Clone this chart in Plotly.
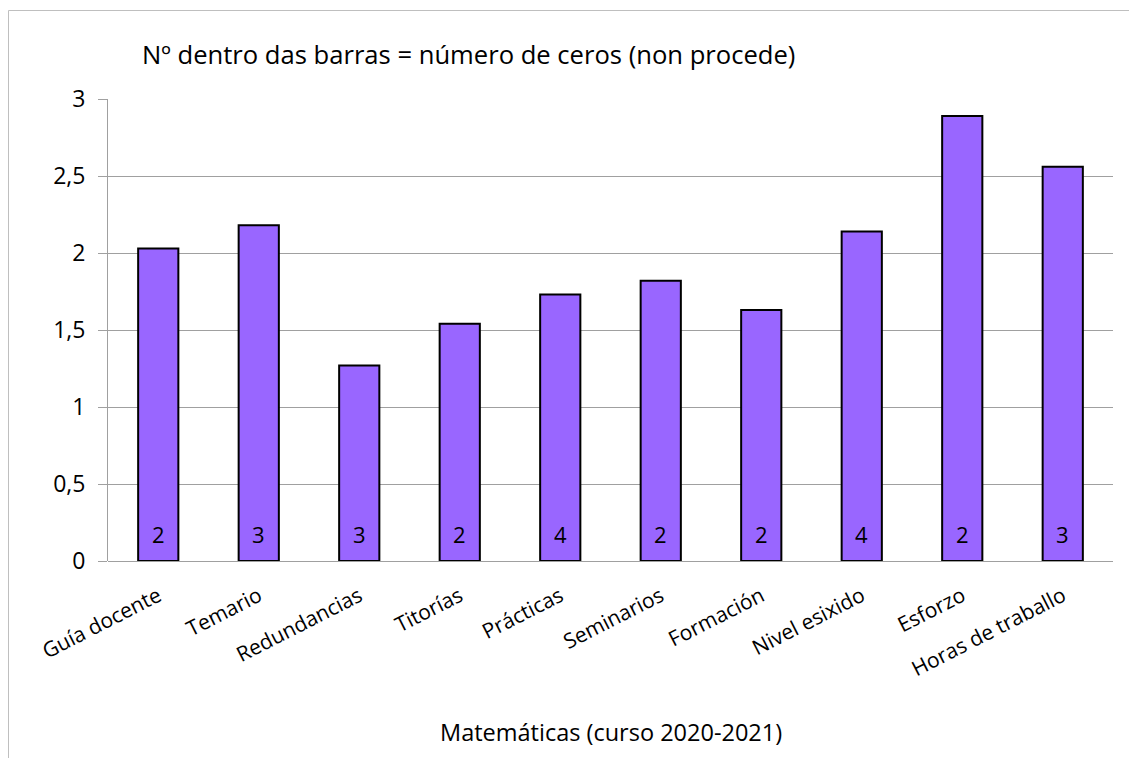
import plotly.graph_objects as go

categories = ["Guía docente", "Temario", "Redundancias", "Titorías", "Prácticas",
              "Seminarios", "Formación", "Nivel esixido", "Esforzo", "Horas de traballo"]
values = [2.03, 2.18, 1.27, 1.54, 1.73, 1.82, 1.63, 2.14, 2.89, 2.56]
zeros = [2, 3, 3, 2, 4, 2, 2, 4, 2, 3]
ytick_vals = [0, 0.5, 1, 1.5, 2, 2.5, 3]
ytick_text = ["0", "0,5", "1", "1,5", "2", "2,5", "3"]

FONT = "Open Sans"
W, H = 1129, 750          # page has an 8px body margin
L, R, T, B = 100, 24, 91, 197
pw, ph = W - L - R, H - T - B

fig = go.Figure()
fig.add_trace(go.Bar(
    x=categories, y=values,
    marker=dict(color="#9966FF", line=dict(color="#000000", width=2)),
    hoverinfo="x+y",
))

for c, z in zip(categories, zeros):
    fig.add_annotation(x=c, y=0, text=str(z), showarrow=False,
                       yanchor="middle", yshift=27,
                       font=dict(family=FONT, size=22, color="#000000"))

fig.add_annotation(xref="paper", yref="paper", x=(132 - L) / pw, y=(H - B - 47) / ph,
                   xanchor="left", yanchor="middle", showarrow=False,
                   text="Nº dentro das barras = número de ceros (non procede)",
                   font=dict(family=FONT, size=25.6, color="#000000"))

fig.add_annotation(xref="paper", yref="paper", x=0.5, y=(H - B - 724) / ph,
                   xanchor="center", yanchor="middle", showarrow=False,
                   text="Matemáticas (curso 2020-2021)",
                   font=dict(family=FONT, size=23.5, color="#000000"))

# outer chart border (left and top visible)
fig.add_shape(type="rect", xref="paper", yref="paper",
              x0=(0.5 - L) / pw, x1=(W + 20 - L) / pw,
              y0=(H - B - (H + 20)) / ph, y1=(H - B - 2.5) / ph,
              line=dict(color="#BFBFBF", width=1), layer="below")

fig.update_layout(
    width=W, height=H,
    margin=dict(l=L, r=R, t=T, b=B, pad=0),
    paper_bgcolor="white", plot_bgcolor="white",
    bargap=0.6, showlegend=False,
    separators=",.",
    font=dict(family=FONT, size=20, color="#000000"),
    xaxis=dict(
        tickangle=-27, showgrid=False, showline=False, ticks="",
        tickfont=dict(family=FONT, size=21, color="#000000"),
        ticklabelstandoff=18,
        automargin=False,
    ),
    yaxis=dict(
        range=[0, 3], tickvals=ytick_vals, ticktext=ytick_text,
        showgrid=True, gridcolor="#A0A0A0", gridwidth=1,
        showline=True, linecolor="#A0A0A0", linewidth=1,
        ticks="outside", ticklen=9, tickcolor="#A0A0A0",
        zeroline=True, zerolinecolor="#A0A0A0", zerolinewidth=1,
        tickfont=dict(family=FONT, size=23, color="#000000"),
        ticklabelstandoff=8,
        automargin=False,
    ),
)

fig.write_html("out.html")
